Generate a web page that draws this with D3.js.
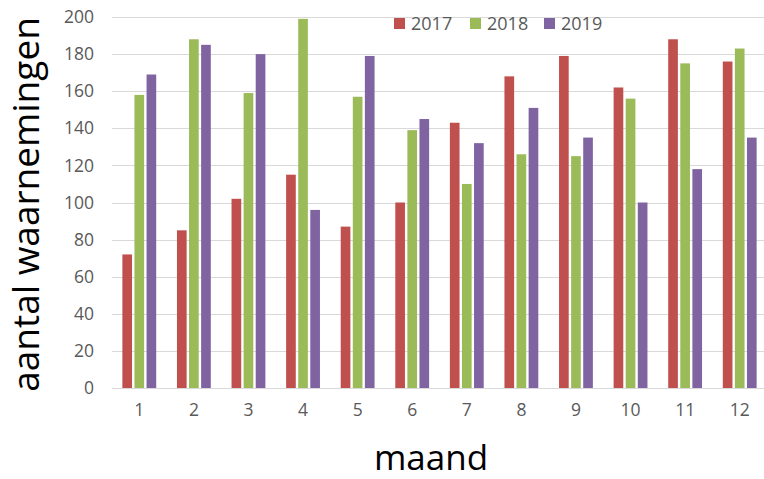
<!DOCTYPE html>
<html>
<head>
<meta charset="utf-8">
<script src="https://cdn.jsdelivr.net/npm/d3@7"></script>
<style>
  body { margin: 0; background: #fff; }
  text { font-family: "Open Sans", sans-serif; }
</style>
</head>
<body>
<div id="wrapper"></div>
<script>
// data
const months = ["1", "2", "3", "4", "5", "6", "7", "8", "9", "10", "11", "12"];
const years = ["2017", "2018", "2019"];
const values2017 = [72, 85, 102, 115, 87, 100, 143, 168, 179, 162, 188, 176];
const values2018 = [158, 188, 159, 199, 157, 139, 110, 126, 125, 156, 175, 183];
const values2019 = [169, 185, 180, 96, 179, 145, 132, 151, 135, 100, 118, 135];
const yTicks = [0, 20, 40, 60, 80, 100, 120, 140, 160, 180, 200];

const seriesValues = [values2017, values2018, values2019];
const colors = ["#C0504D", "#9BBB59", "#8064A2"];

const dimensions = {
  width: 764,
  height: 479,
  margins: { top: 17, right: -3, bottom: 91, left: 112 }
};
dimensions.boundedWidth = dimensions.width - dimensions.margins.left - dimensions.margins.right;
dimensions.boundedHeight = dimensions.height - dimensions.margins.top - dimensions.margins.bottom;

const svg = d3.select("#wrapper")
  .append("svg")
    .attr("width", dimensions.width)
    .attr("height", dimensions.height);

const bounds = svg.append("g")
  .attr("transform", `translate(${dimensions.margins.left},${dimensions.margins.top})`);

// scales
const xScale = d3.scaleBand()
  .domain(months)
  .range([0, dimensions.boundedWidth]);

const xInner = d3.scaleBand()
  .domain(years)
  .range([xScale.bandwidth() * 0.19, xScale.bandwidth() * 0.81])
  .paddingInner(0.2);

const yScale = d3.scaleLinear()
  .domain([0, 200])
  .range([dimensions.boundedHeight, 0]);

// gridlines
bounds.append("g")
  .selectAll("line")
  .data(yTicks)
  .join("line")
    .attr("x1", 0)
    .attr("x2", dimensions.boundedWidth)
    .attr("y1", d => Math.round(yScale(d)) + 0.5)
    .attr("y2", d => Math.round(yScale(d)) + 0.5)
    .attr("stroke", "#D9D9D9")
    .attr("stroke-width", 1);

// bars
years.forEach((year, i) => {
  bounds.append("g")
    .selectAll("rect")
    .data(seriesValues[i])
    .join("rect")
      .attr("x", (d, j) => xScale(months[j]) + xInner(year))
      .attr("y", d => yScale(d))
      .attr("width", xInner.bandwidth())
      .attr("height", d => dimensions.boundedHeight - yScale(d))
      .attr("fill", colors[i]);
});

// axes
const yAxis = bounds.append("g")
  .call(d3.axisLeft(yScale).tickValues(yTicks).tickSize(0).tickPadding(18));
yAxis.select(".domain").remove();
yAxis.selectAll("text")
  .attr("fill", "#595959")
  .style("font-size", "17.5px");

const xAxis = bounds.append("g")
  .attr("transform", `translate(0,${dimensions.boundedHeight})`)
  .call(d3.axisBottom(xScale).tickSize(0).tickPadding(16));
xAxis.select(".domain").remove();
xAxis.selectAll("text")
  .attr("fill", "#595959")
  .style("font-size", "17.5px");

// axis titles
svg.append("text")
  .attr("transform", `translate(39,${dimensions.margins.top + dimensions.boundedHeight / 2 + 2}) rotate(-90)`)
  .attr("text-anchor", "middle")
  .attr("fill", "#000")
  .style("font-size", "37px")
  .text("aantal waarnemingen");

svg.append("text")
  .attr("x", 431)
  .attr("y", 470)
  .attr("text-anchor", "middle")
  .attr("fill", "#000")
  .style("font-size", "35px")
  .text("maand");

// legend
const legendX = [394, 470, 544];
const legend = svg.append("g");
years.forEach((year, i) => {
  legend.append("rect")
    .attr("x", legendX[i])
    .attr("y", 18)
    .attr("width", 11)
    .attr("height", 11)
    .attr("fill", colors[i]);
  legend.append("text")
    .attr("x", legendX[i] + 17)
    .attr("y", 30)
    .attr("fill", "#595959")
    .style("font-size", "18px")
    .text(year);
});
</script>
</body>
</html>
